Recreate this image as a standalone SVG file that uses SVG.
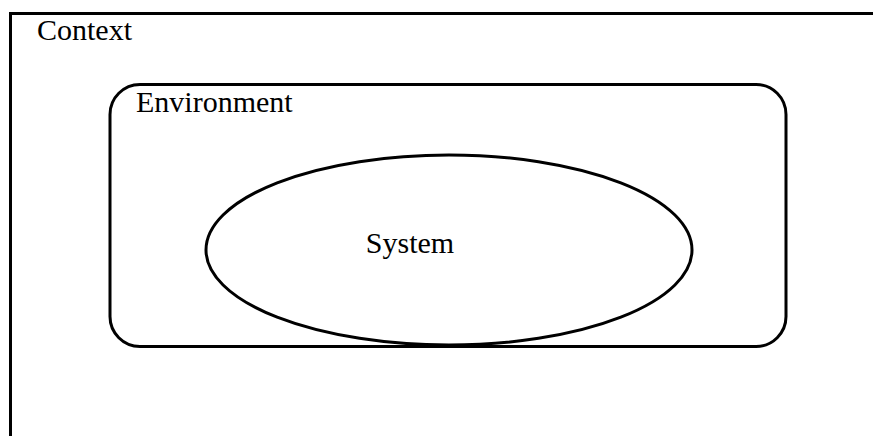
<svg xmlns="http://www.w3.org/2000/svg" width="873" height="436" viewBox="0 0 873 436">
  <style>
    .frame { fill: none; stroke: #000; stroke-width: 3; }
    .label { font-family: "Liberation Serif", "Times New Roman", serif; font-size: 30px; fill: #000; }
  </style>
  <rect width="873" height="436" fill="#fff"/>
  <g id="context">
    <path class="frame" d="M10.5,436 V13.5 H873"/>
    <text class="label" x="37" y="39.5">Context</text>
  </g>
  <g id="environment">
    <rect class="frame" x="110" y="84.5" width="676" height="262" rx="30" ry="30"/>
    <text class="label" x="136" y="112">Environment</text>
  </g>
  <g id="system">
    <ellipse class="frame" cx="449" cy="250" rx="243" ry="95"/>
    <text class="label" x="410" y="253" text-anchor="middle">System</text>
  </g>
  <g id="connectors"/>
</svg>
